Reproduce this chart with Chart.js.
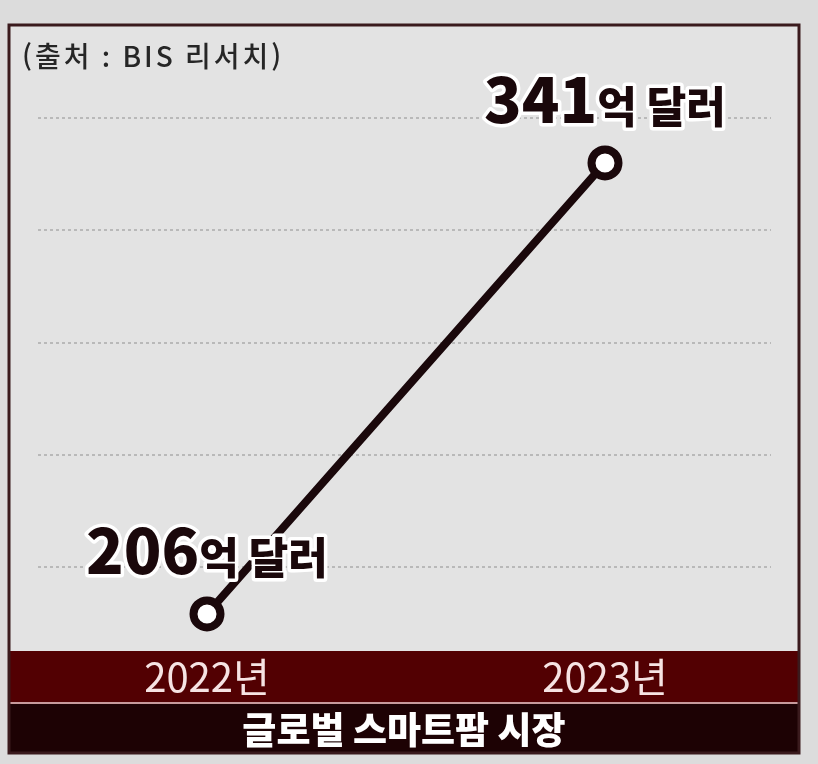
<!DOCTYPE html>
<html lang="ko">
<head>
<meta charset="utf-8">
<title>글로벌 스마트팜 시장</title>
<script src="https://cdn.jsdelivr.net/npm/chart.js@4"></script>
<style>
  html, body { margin: 0; padding: 0; background: #dcdcdc; }
  #wrap { width: 818px; height: 764px; }
</style>
</head>
<body>
<div id="wrap"><canvas id="chartMercado" width="818" height="764"></canvas></div>
<script>
/* 글로벌 스마트팜 시장 규모 (단위: 억 달러) */

const years = ["2022년", "2023년"];
const marketSize = [206, 341];
const valueUnit = "억 달러";
const gridTicks = [220, 253.6, 287.2, 320.8, 354.4];
const sourceNote = "(출처 : BIS 리서치)";
const footerTitle = "글로벌 스마트팜 시장";

const KR = '"Noto Sans CJK KR", "Noto Sans", sans-serif';
const INK = "#1a080b";

// marco, bandas y rejilla punteada
const marco = {
  id: "marco",
  beforeDraw(chart) {
    const { ctx } = chart;
    ctx.save();
    ctx.fillStyle = "#dcdcdc";
    ctx.fillRect(0, 0, chart.width, chart.height);
    ctx.fillStyle = "#e3e3e3";
    ctx.fillRect(9, 25, 790, 728);
    // banda de años
    ctx.fillStyle = "#520002";
    ctx.fillRect(9, 651, 790, 52);
    ctx.fillStyle = "#c79a9c";
    ctx.fillRect(9, 702, 790, 2);
    ctx.fillStyle = "#1d0204";
    ctx.fillRect(9, 704, 790, 49);
    ctx.strokeStyle = "#3a1a1d";
    ctx.lineWidth = 3;
    ctx.strokeRect(9, 25, 790, 728);
    ctx.restore();
  },
  beforeDatasetsDraw(chart) {
    const { ctx } = chart;
    const y = chart.scales.y;
    ctx.save();
    ctx.strokeStyle = "#b9b9b9";
    ctx.lineWidth = 2;
    ctx.setLineDash([3, 3]);
    gridTicks.forEach((v) => {
      const py = Math.round(y.getPixelForValue(v));
      ctx.beginPath();
      ctx.moveTo(38, py);
      ctx.lineTo(771, py);
      ctx.stroke();
    });
    ctx.restore();
  },
  afterDraw(chart) {
    const { ctx } = chart;
    ctx.save();
    ctx.fillStyle = "#262626";
    ctx.font = "500 28px " + KR;
    ctx.letterSpacing = "3px";
    ctx.textBaseline = "middle";
    ctx.textAlign = "left";
    ctx.fillText(sourceNote, 22, 56);
    ctx.letterSpacing = "0px";
    ctx.fillStyle = "#ffffff";
    ctx.font = "800 37px " + KR;
    ctx.textAlign = "center";
    ctx.fillText(footerTitle, 404, 730);
    ctx.restore();
  },
};

// etiquetas de valor sobre cada punto
const etiquetas = {
  id: "etiquetas",
  afterDatasetsDraw(chart) {
    const { ctx } = chart;
    const meta = chart.getDatasetMeta(0);
    ctx.save();
    ctx.textBaseline = "alphabetic";
    ctx.textAlign = "left";
    ctx.lineJoin = "round";
    meta.data.forEach((pt, i) => {
      const num = String(marketSize[i]);
      const fNum = "900 62px " + KR;
      const fUnit = "900 43px " + KR;
      ctx.font = fNum;
      const wNum = ctx.measureText(num).width;
      ctx.font = fUnit;
      const wUnit = ctx.measureText(valueUnit).width;
      const x0 = pt.x - (wNum + wUnit) / 2;
      const base = pt.y - 40;
      ctx.strokeStyle = "#ffffff";
      ctx.lineWidth = 7;
      ctx.fillStyle = INK;
      ctx.font = fNum;
      ctx.strokeText(num, x0, base);
      ctx.font = fUnit;
      ctx.strokeText(valueUnit, x0 + wNum, base);
      ctx.font = fNum;
      ctx.fillText(num, x0, base);
      ctx.font = fUnit;
      ctx.fillText(valueUnit, x0 + wNum, base);
    });
    ctx.restore();
  },
};

new Chart(document.getElementById("chartMercado"), {
  type: "line",
  data: {
    labels: years,
    datasets: [
      {
        data: marketSize,
        borderColor: INK,
        borderWidth: 8,
        borderCapStyle: "round",
        pointRadius: 13.5,
        pointHoverRadius: 13.5,
        pointBackgroundColor: "#ffffff",
        pointBorderColor: INK,
        pointBorderWidth: 8,
        tension: 0,
      },
    ],
  },
  options: {
    responsive: false,
    animation: false,
    events: [],
    layout: { autoPadding: false, padding: { left: 8, right: 14, top: 28, bottom: 0 } },
    plugins: { legend: { display: false }, tooltip: { enabled: false } },
    scales: {
      x: {
        offset: true,
        grid: { display: false, drawTicks: false },
        border: { display: false },
        ticks: {
          color: "#f6e3e3",
          padding: 3,
          font: { family: KR, size: 40, weight: "400" },
          maxRotation: 0,
        },
        afterFit(scale) {
          scale.height = 114;
          scale.paddingLeft = 0;
          scale.paddingRight = 0;
        },
      },
      y: {
        display: false,
        min: 195.2,
        max: 381.4,
      },
    },
  },
  plugins: [marco, etiquetas],
});
</script>
</body>
</html>
